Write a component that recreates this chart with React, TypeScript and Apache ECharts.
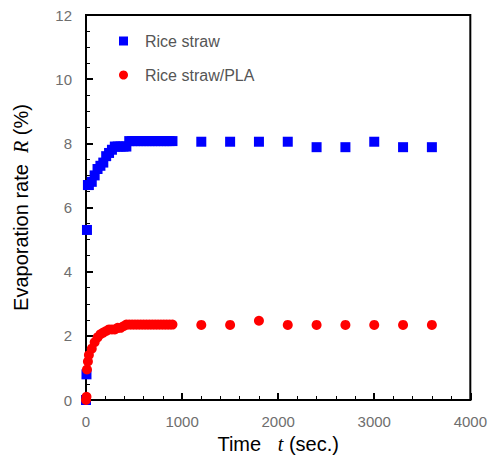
import React, { useEffect, useRef } from "react";
import * as echarts from "echarts";

const riceStrawT = [0, 5, 10, 20, 30, 60, 90, 120, 150, 180, 210, 240, 270, 300, 330, 360, 390, 420, 450, 480, 510, 540, 570, 600, 630, 660, 690, 720, 750, 780, 810, 840, 870, 900, 1200, 1500, 1800, 2100, 2400, 2700, 3000, 3300, 3600];
const riceStrawR = [0, 0.8, 5.3, 6.7, 6.7, 6.8, 7.0, 7.2, 7.3, 7.4, 7.6, 7.7, 7.8, 7.9, 7.9, 7.9, 7.9, 7.9, 8.07, 8.07, 8.07, 8.07, 8.07, 8.07, 8.07, 8.07, 8.07, 8.07, 8.07, 8.07, 8.07, 8.07, 8.07, 8.07, 8.05, 8.05, 8.05, 8.05, 7.88, 7.88, 8.05, 7.88, 7.88];

const plaT = [0, 5, 10, 20, 30, 60, 90, 120, 150, 180, 210, 240, 270, 300, 330, 360, 390, 420, 450, 480, 510, 540, 570, 600, 630, 660, 690, 720, 750, 780, 810, 840, 870, 900, 1200, 1500, 1800, 2100, 2400, 2700, 3000, 3300, 3600];
const plaR = [0, 0.1, 0.95, 1.2, 1.4, 1.6, 1.8, 1.95, 2.05, 2.1, 2.15, 2.2, 2.2, 2.2, 2.25, 2.25, 2.3, 2.35, 2.35, 2.35, 2.35, 2.35, 2.35, 2.35, 2.35, 2.35, 2.35, 2.35, 2.35, 2.35, 2.35, 2.35, 2.35, 2.35, 2.34, 2.34, 2.47, 2.34, 2.34, 2.34, 2.34, 2.34, 2.34];

const seriesNames = ["Rice straw", "Rice straw/PLA"];

export default function App() {
  const ref = useRef<HTMLDivElement>(null);
  useEffect(() => {
    const chart = echarts.init(ref.current!, null, { renderer: "svg" });
    const labelFont = "Liberation Sans, Arial, sans-serif";
    const italicFont = "Liberation Serif, Times New Roman, serif";
    chart.setOption({
      animation: false,
      backgroundColor: "#ffffff",
      grid: {
        left: 86,
        right: 18,
        top: 15,
        bottom: 62,
        show: true,
        borderColor: "#000",
        borderWidth: 2,
        containLabel: false,
      },
      legend: {
        orient: "vertical",
        left: 114,
        top: 28,
        itemGap: 18,
        itemWidth: 9,
        itemHeight: 9,
        textStyle: { fontFamily: labelFont, fontSize: 16, color: "#555", padding: [0, 0, 0, 12] },
        data: [
          { name: seriesNames[0], icon: "rect" },
          { name: seriesNames[1], icon: "circle" },
        ],
      },
      xAxis: {
        type: "value",
        min: 0,
        max: 4000,
        interval: 1000,
        name: "Time   {i|t} (sec.)",
        nameLocation: "middle",
        nameGap: 25,
        nameTextStyle: {
          fontFamily: labelFont,
          fontSize: 20,
          color: "#000",
          rich: {
            i: { fontFamily: italicFont, fontStyle: "italic", fontSize: 20, color: "#000" },
          },
        },
        axisLine: { show: true, lineStyle: { color: "#000", width: 2 } },
        axisTick: { show: true, inside: true, length: 7, lineStyle: { color: "#000", width: 2 } },
        minorTick: { show: true, splitNumber: 5, length: 4, lineStyle: { color: "#000", width: 1 } },
        axisLabel: { fontFamily: labelFont, fontSize: 15, color: "#6e6e6e", margin: 14, formatter: (v: number) => String(v) },
        splitLine: { show: false },
      },
      yAxis: {
        type: "value",
        min: 0,
        max: 12,
        interval: 2,
        name: "Evaporation rate  {i|R} (%)",
        nameLocation: "middle",
        nameGap: 55,
        nameRotate: 90,
        nameTextStyle: {
          fontFamily: labelFont,
          fontSize: 20,
          color: "#000",
          rich: {
            i: { fontFamily: italicFont, fontStyle: "italic", fontSize: 20, color: "#000" },
          },
        },
        axisLine: { show: true, lineStyle: { color: "#000", width: 2 } },
        axisTick: { show: true, inside: true, length: 7, lineStyle: { color: "#000", width: 2 } },
        minorTick: { show: true, splitNumber: 4, length: 4, lineStyle: { color: "#000", width: 1 } },
        axisLabel: { fontFamily: labelFont, fontSize: 15, color: "#6e6e6e", margin: 14 },
        splitLine: { show: false },
      },
      series: [
        {
          name: seriesNames[0],
          type: "scatter",
          symbol: "rect",
          symbolSize: 10,
          itemStyle: { color: "#0000ff", opacity: 1 },
          data: riceStrawT.map((t, i) => [t, riceStrawR[i]]),
          z: 2,
        },
        {
          name: seriesNames[1],
          type: "scatter",
          symbol: "circle",
          symbolSize: 10,
          itemStyle: { color: "#ff0000", opacity: 1 },
          data: plaT.map((t, i) => [t, plaR[i]]),
          z: 3,
        },
      ],
    });
    return () => chart.dispose();
  }, []);
  return (
    <div
      ref={ref}
      style={{ position: "fixed", left: 0, top: 0, width: 490, height: 462 }}
    />
  );
}
